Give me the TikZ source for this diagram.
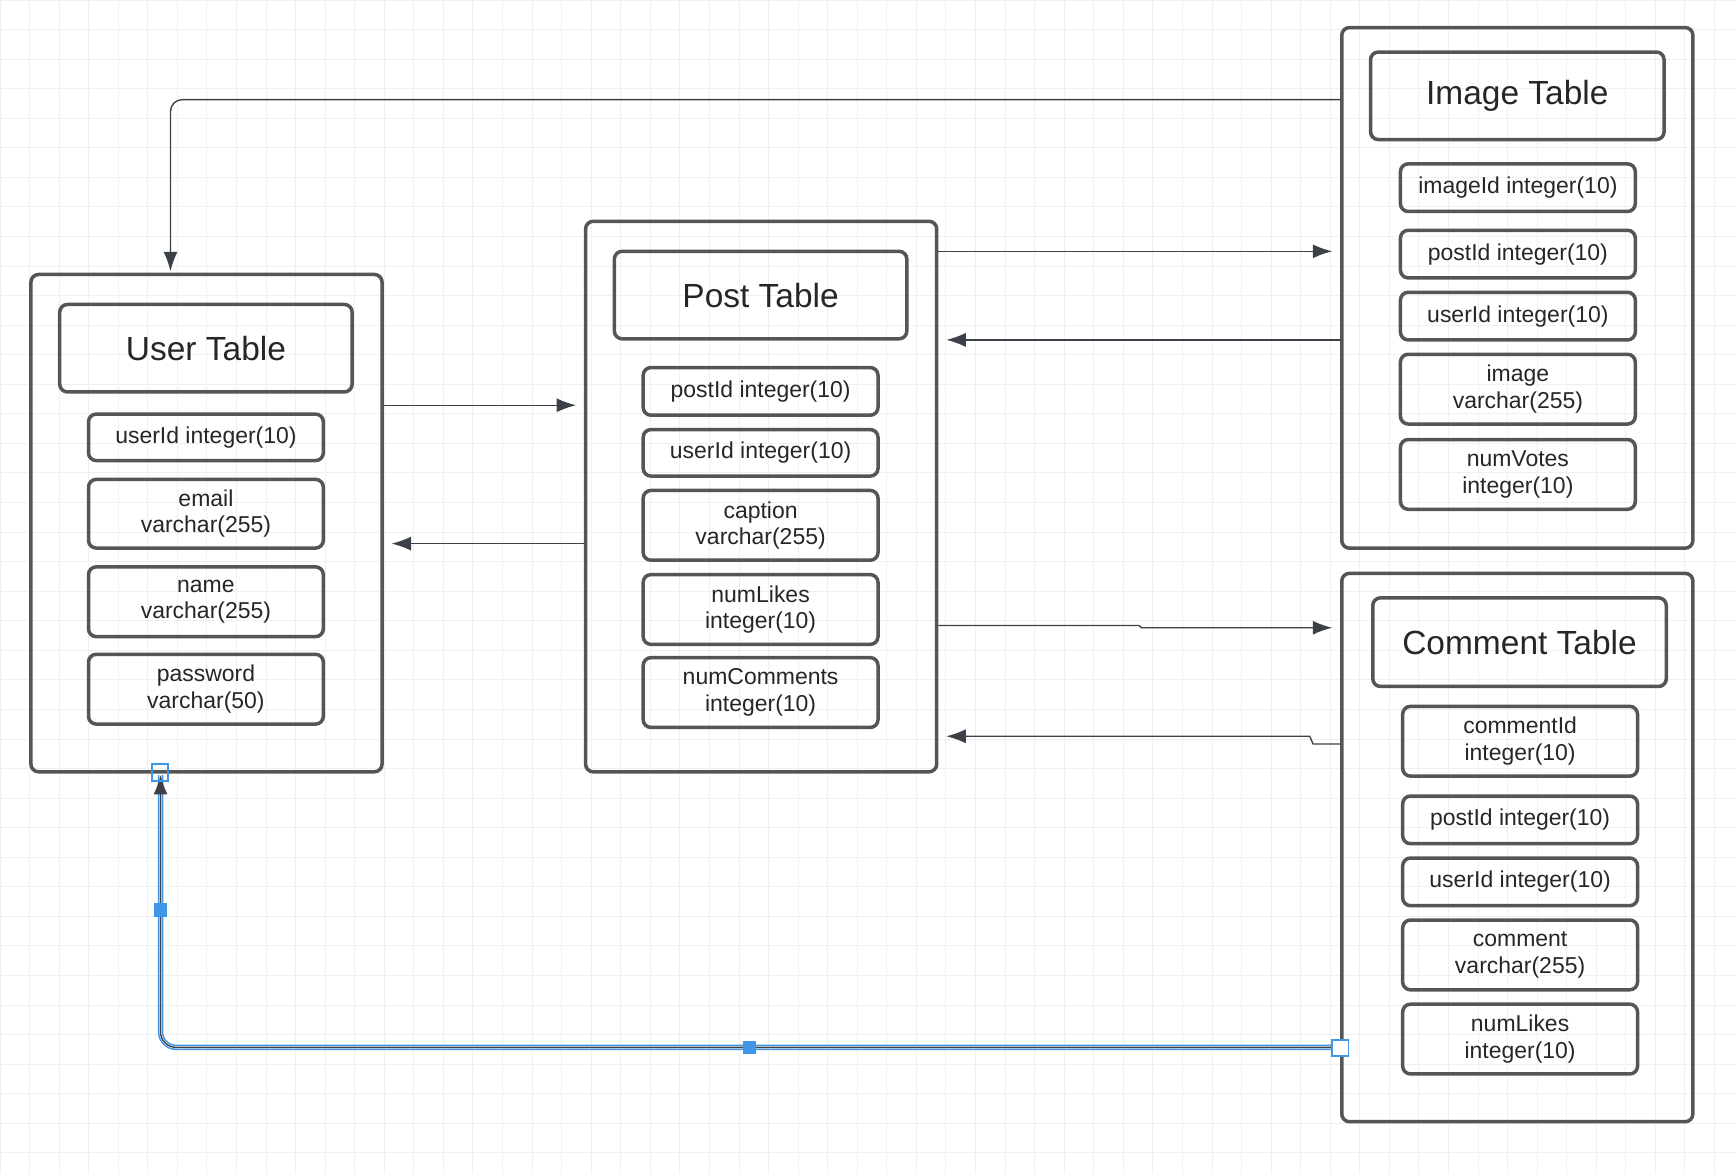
\documentclass[tikz,border=0pt]{standalone}
\usepackage{fontspec}
\setmainfont{Liberation Sans}
\usetikzlibrary{positioning,calc,arrows.meta}
\definecolor{boxgray}{RGB}{85,85,85}
\definecolor{linkgray}{RGB}{60,64,72}
\definecolor{selblue}{RGB}{64,150,230}
\tikzset{
  tablebox/.style={draw=boxgray, line width=0.9pt, rounded corners=2pt},
  titlebox/.style={draw=boxgray, line width=0.9pt, rounded corners=2pt, font=\fontsize{8.6}{10}\selectfont, text=black!85},
  fieldbox/.style={draw=boxgray, line width=0.9pt, rounded corners=2pt, align=center, inner sep=1pt, font=\fontsize{5.9}{6.8}\selectfont, text=black!85},
  link/.style={draw=linkgray, line width=0.35pt, -{Latex[length=5pt,width=3.6pt]}}
}
\begin{document}
\begin{tikzpicture}[x=0.01cm,y=-0.01cm]
\useasboundingbox (0,0) rectangle (1568,1060);
% background grid
\foreach \gx in {0,26.7,...,1568} \draw[black!6, line width=0.25pt] (\gx,0) -- (\gx,1060);
\foreach \gy in {0,26.7,...,1060} \draw[black!6, line width=0.25pt] (0,\gy) -- (1568,\gy);

% User table
\node[tablebox, minimum width=3.17cm, minimum height=4.49cm] (user) at (186.5,472.5) {};
\node[titlebox, minimum width=2.64cm, minimum height=0.79cm] (userT) at (186,314.5) {User Table};
\node[fieldbox, minimum width=2.12cm, minimum height=0.42cm] (uId) at (186,395) {userId integer(10)};
\node[fieldbox, minimum width=2.12cm, minimum height=0.62cm] (uMail) at (186,464) {email\\ varchar(255)};
\node[fieldbox, minimum width=2.12cm, minimum height=0.63cm] (uName) at (186,543.5) {name\\ varchar(255)};
\node[fieldbox, minimum width=2.12cm, minimum height=0.63cm] (uPass) at (186,622.5) {password\\ varchar(50)};

% Post table
\node[tablebox, minimum width=3.17cm, minimum height=4.97cm] (post) at (687.5,448.5) {};
\node[titlebox, minimum width=2.64cm, minimum height=0.79cm] (postT) at (687,266.5) {Post Table};
\node[fieldbox, minimum width=2.12cm, minimum height=0.43cm] (pId) at (687,353.5) {postId integer(10)};
\node[fieldbox, minimum width=2.12cm, minimum height=0.42cm] (pUser) at (687,409) {userId integer(10)};
\node[fieldbox, minimum width=2.12cm, minimum height=0.63cm] (pCap) at (687,474.5) {caption\\ varchar(255)};
\node[fieldbox, minimum width=2.12cm, minimum height=0.63cm] (pLikes) at (687,550.5) {numLikes\\ integer(10)};
\node[fieldbox, minimum width=2.12cm, minimum height=0.63cm] (pCom) at (687,625.5) {numComments\\ integer(10)};

% Image table
\node[tablebox, minimum width=3.17cm, minimum height=4.70cm] (image) at (1370.5,260) {};
\node[titlebox, minimum width=2.65cm, minimum height=0.79cm] (imageT) at (1370.5,86.5) {Image Table};
\node[fieldbox, minimum width=2.12cm, minimum height=0.43cm] (iId) at (1371,169.5) {imageId integer(10)};
\node[fieldbox, minimum width=2.12cm, minimum height=0.43cm] (iPost) at (1371,229.5) {postId integer(10)};
\node[fieldbox, minimum width=2.12cm, minimum height=0.43cm] (iUser) at (1371,285.5) {userId integer(10)};
\node[fieldbox, minimum width=2.12cm, minimum height=0.63cm] (iImg) at (1371,351.5) {image\\ varchar(255)};
\node[fieldbox, minimum width=2.12cm, minimum height=0.63cm] (iVotes) at (1371,428.5) {numVotes\\ integer(10)};

% Comment table
\node[tablebox, minimum width=3.17cm, minimum height=4.95cm] (comment) at (1370.5,765.5) {};
\node[titlebox, minimum width=2.65cm, minimum height=0.80cm] (commentT) at (1372.5,580) {Comment Table};
\node[fieldbox, minimum width=2.12cm, minimum height=0.63cm] (cId) at (1373,669.5) {commentId\\ integer(10)};
\node[fieldbox, minimum width=2.12cm, minimum height=0.43cm] (cPost) at (1373,740.5) {postId integer(10)};
\node[fieldbox, minimum width=2.12cm, minimum height=0.43cm] (cUser) at (1373,796.5) {userId integer(10)};
\node[fieldbox, minimum width=2.12cm, minimum height=0.63cm] (cText) at (1373,862.5) {comment\\ varchar(255)};
\node[fieldbox, minimum width=2.12cm, minimum height=0.63cm] (cLikes) at (1373,938.5) {numLikes\\ integer(10)};

% Connectors
\draw[link, rounded corners=3pt] (image.west |- 0,90) -- (154,90) -- (154,245);
\draw[link] (post.east |- 0,227) -- ([xshift=-2]image.west |- 0,227);
\draw[link] (image.west |- 0,307) -- ([xshift=2]post.east |- 0,307);
\draw[link] (user.east |- 0,366) -- ([xshift=-2]post.west |- 0,366);
\draw[link] (post.west |- 0,491) -- ([xshift=2]user.east |- 0,491);
\draw[link] (post.east |- 0,565) -- (1029,565) -- (1031,567) -- ([xshift=-2]comment.west |- 0,567);
\draw[link] (comment.west |- 0,672) -- (1186,672) -- (1183,665) -- ([xshift=2]post.east |- 0,665);

% Selected connector
\coordinate (selEnd) at (145,700);
\draw[selblue, line width=1.4pt, rounded corners=4pt] (comment.west |- 0,946) -- (145,946) -- (selEnd);
\draw[white, line width=0.6pt, rounded corners=4pt] (comment.west |- 0,946) -- (145,946) -- (selEnd);
\draw[linkgray, line width=0.35pt, rounded corners=4pt, -{Latex[length=5pt,width=3.6pt]}] (comment.west |- 0,946) -- (145,946) -- (selEnd);
\fill[selblue] (139,816) rectangle (151,828);
\fill[selblue] (671,940) rectangle (683,952);
\draw[selblue, fill=white, line width=0.5pt] (1203,939) rectangle (1218,954);
\draw[selblue, line width=0.5pt] (137,690) rectangle (152,705);
\end{tikzpicture}
\end{document}
